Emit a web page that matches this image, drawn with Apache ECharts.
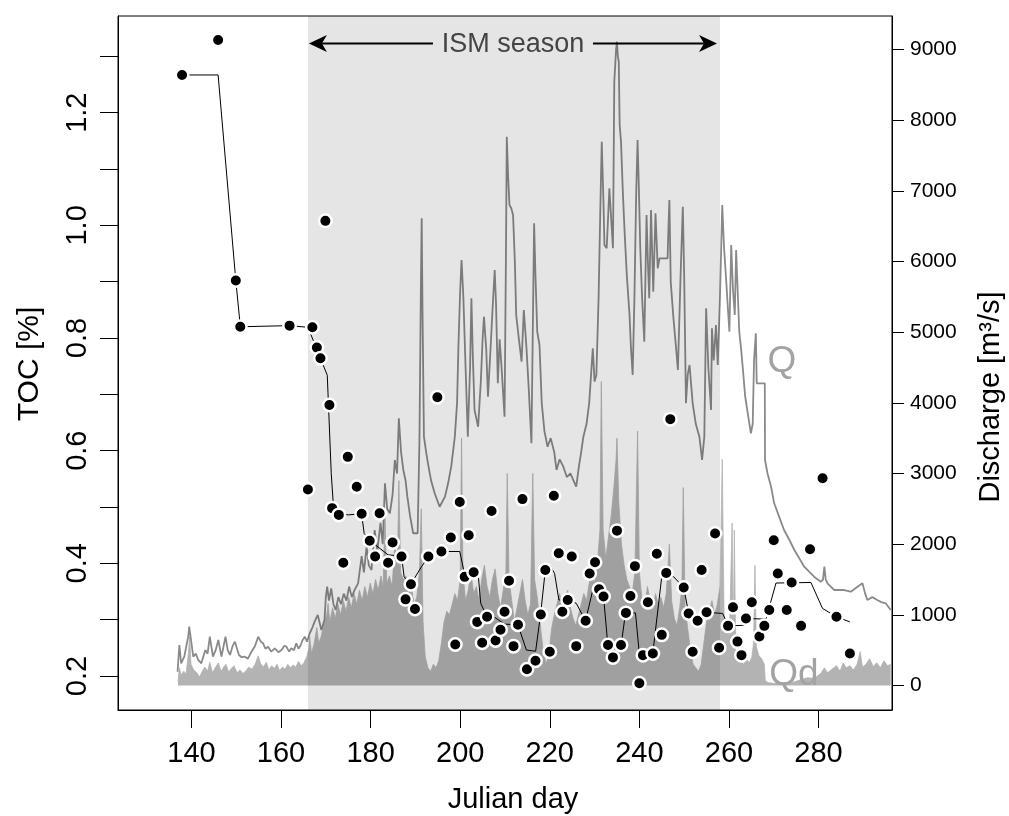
<!DOCTYPE html>
<html><head><meta charset="utf-8">
<script src="https://cdn.jsdelivr.net/npm/echarts@6/dist/echarts.min.js"></script>
<style>html,body{margin:0;padding:0;background:#fff;}#c{width:1009px;height:816px;}</style>
</head><body><div id="c"></div>
<script>
// ---- axis ticks ----
const xTicks = [140,160,180,200,220,240,260,280];
const tocTicks = [0.2,0.3,0.4,0.5,0.6,0.7,0.8,0.9,1.0,1.1,1.2,1.3];
const tocLabels = [0.2,0.4,0.6,0.8,1.0,1.2];
const qTicks = [0,1000,2000,3000,4000,5000,6000,7000,8000,9000];
const ismStart = 166, ismEnd = 258;

// ---- TOC samples ----
const tocDays = [137.9,145.95,149.9,150.9,161.9,166.0,167.0,168.0,168.8,169.9,170.8,171.4,172.9,173.9,174.9,176.9,178.0,179.8,181.0,182.0,183.9,184.9,186.9,187.8,189.0,189.9,192.9,194.9,195.8,197.9,198.9,199.9,201.0,201.9,203.0,203.8,204.9,206.0,207.0,207.9,209.0,209.9,210.9,211.9,212.9,213.9,214.9,216.8,218.0,219.0,220.0,220.9,222.0,222.8,224.0,224.9,225.9,228.0,228.9,230.1,231.0,232.0,233.0,234.1,235.0,235.9,237.0,238.0,239.0,240.0,240.8,241.9,243.0,243.9,245.0,246.0,246.9,249.9,251.0,251.9,253.0,253.9,255.0,256.9,257.8,259.8,260.9,261.9,262.8,263.8,265.1,266.8,267.9,269.0,270.0,270.9,272.9,274.0,276.1,278.1,280.9,284.0,287.0];
const tocValues = [1.267,1.329,0.902,0.820,0.822,0.531,0.819,0.783,0.764,1.008,0.681,0.498,0.486,0.401,0.589,0.536,0.488,0.440,0.412,0.489,0.401,0.437,0.412,0.336,0.363,0.319,0.412,0.695,0.421,0.446,0.256,0.509,0.376,0.450,0.384,0.296,0.259,0.305,0.493,0.263,0.282,0.314,0.369,0.253,0.291,0.514,0.212,0.227,0.309,0.388,0.243,0.520,0.418,0.314,0.335,0.412,0.253,0.298,0.382,0.402,0.354,0.341,0.255,0.233,0.458,0.255,0.312,0.342,0.395,0.187,0.237,0.331,0.240,0.417,0.273,0.383,0.656,0.357,0.311,0.243,0.298,0.388,0.313,0.453,0.250,0.289,0.322,0.261,0.237,0.302,0.331,0.270,0.289,0.317,0.441,0.382,0.317,0.366,0.289,0.425,0.551,0.305,0.240];

// ---- TOC running line ----
const medDays = [137.93,145.95,149.90,150.92,161.93,166.01,170.32,171.21,171.65,172.92,175.00,177.98,178.56,180.21,183.91,186.90,187.48,188.97,191.36,192.92,195.82,199.90,200.86,203.02,203.98,204.58,205.98,207.70,209.93,212.89,214.77,216.84,217.95,219.00,219.96,221.07,222.03,224.04,225.91,227.98,229.61,230.73,232.00,232.96,235.94,236.90,239.13,240.02,242.99,244.99,245.97,247.67,249.90,251.01,253.02,255.02,258.59,259.86,263.43,263.81,268.27,270.50,278.30,280.88,284.00,286.99];
const medValues = [1.267,1.267,0.902,0.820,0.822,0.819,0.734,0.559,0.507,0.488,0.486,0.488,0.453,0.438,0.415,0.413,0.376,0.363,0.394,0.412,0.421,0.421,0.385,0.384,0.383,0.329,0.305,0.304,0.292,0.291,0.246,0.244,0.310,0.388,0.397,0.382,0.335,0.335,0.329,0.298,0.353,0.359,0.341,0.255,0.255,0.312,0.312,0.237,0.240,0.376,0.383,0.376,0.357,0.311,0.308,0.313,0.311,0.289,0.290,0.302,0.301,0.365,0.366,0.320,0.305,0.296];

// ---- Discharge Q ----
const qDays = [136.9,137.3,137.7,138.4,139.3,139.5,139.8,140.4,141.0,141.5,142.2,143.1,143.6,144.1,144.8,145.4,146.0,146.7,147.6,148.1,148.6,149.2,149.7,150.6,151.2,151.9,152.6,153.4,154.2,154.9,155.5,156.0,156.5,157.1,157.8,158.6,159.4,160.1,160.7,161.2,161.8,162.3,162.9,163.4,163.9,164.4,164.8,165.3,165.8,166.4,167.0,167.5,168.2,169.0,169.7,170.0,170.3,170.7,171.2,171.7,172.2,172.8,173.4,174.0,174.6,175.2,175.8,176.4,177.2,178.0,178.5,179.1,179.6,180.2,180.9,181.5,182.2,182.7,183.2,183.7,184.3,184.9,185.4,185.9,186.3,186.8,187.3,187.8,188.2,188.8,189.5,190.5,190.9,191.2,191.4,191.6,191.9,192.4,192.8,193.5,194.3,195.0,195.4,196.0,196.6,197.3,198.0,198.8,199.3,199.6,200.0,200.3,200.7,201.2,201.7,202.2,202.5,202.8,203.2,204.0,204.6,205.0,205.3,205.8,206.2,206.8,207.2,207.7,208.0,208.4,208.8,209.2,209.9,210.2,210.4,210.7,211.0,211.4,211.8,212.2,212.5,213.1,213.7,214.2,214.8,215.3,215.9,216.2,216.5,216.8,217.2,217.7,218.2,218.8,219.5,220.2,221.0,221.5,222.2,223.0,223.8,224.6,225.3,225.9,226.5,227.0,227.5,228.2,228.8,229.6,230.0,230.4,230.9,231.3,231.6,232.0,232.2,232.7,233.0,233.3,233.6,234.1,234.4,234.8,235.0,235.2,235.4,235.6,235.9,236.3,236.7,237.2,237.8,238.1,238.5,238.9,239.3,239.6,239.9,240.2,240.6,241.1,241.6,241.9,242.2,242.6,243.1,243.6,244.1,244.5,246.3,246.5,246.7,247.0,247.6,248.2,248.6,249.2,249.7,250.0,250.4,250.8,251.2,251.9,252.6,253.4,254.0,254.5,254.9,255.4,256.0,256.2,256.6,257.1,257.5,258.0,258.5,258.9,259.4,259.8,260.1,260.5,260.9,261.3,261.6,262.0,262.3,262.7,263.1,263.6,264.2,264.9,265.3,265.6,266.0,266.2,268.0,268.05,268.6,269.4,270.1,271.2,272.3,273.5,274.6,275.7,276.8,277.9,279.0,280.5,281.0,281.3,281.6,282.0,283.5,285.7,287.2,288.7,289.8,290.4,290.9,292.0,293.1,294.0,295.0,296.1];
const qValues = [195,573,314,408,700,832,832,408,450,361,314,502,450,690,408,500,644,408,690,500,432,560,620,432,400,408,380,478,560,690,620,597,520,549,480,526,470,502,560,549,480,526,500,597,520,573,640,690,620,739,820,903,998,785,927,1250,1398,1200,1375,1150,1068,1250,1150,1300,1200,1400,1250,1350,1446,1830,1600,1964,1700,1634,2200,1900,2300,2000,2861,2500,2437,2700,3191,3000,3781,3300,3050,2900,2672,2400,2154,2154,3474,5500,6611,5200,3521,3300,3144,2900,2720,2600,2530,2600,2672,2861,3100,3521,4000,4800,5600,6021,5500,4500,3521,4500,5479,4700,3898,3662,4300,4900,5219,4771,4087,4800,5300,5880,5400,4276,4900,4535,3804,6000,7766,7200,6799,6753,6658,6000,5243,4900,4582,5314,4771,4200,3427,5000,6540,5800,5006,4818,4000,3600,3379,3500,3300,3050,3200,3100,2950,3000,2900,2813,3100,3300,3521,3700,4000,4771,4300,4394,5500,6800,7695,6800,6233,6187,6600,7036,7058,6187,8544,9000,9110,8900,8827,7931,7695,7000,6422,5800,5243,4800,4394,5500,7000,7719,7000,6187,5500,4865,6658,6000,5479,6729,5573,6682,5903,6045,6045,6500,6870,5714,5200,4771,4465,5800,6775,5800,3993,4400,4535,3993,3700,3521,3191,3521,5338,4500,3898,5054,4600,5101,4535,5500,6799,6200,5714,5300,5006,6233,5600,5243,6162,5500,5006,4771,4488,4100,3852,3569,3700,4600,4984,4276,4276,3191,3003,2813,2578,2389,2200,2059,1917,1800,1681,1610,1540,1469,1500,1681,1500,1446,1351,1351,1327,1398,1446,1300,1210,1250,1210,1180,1163,1068];

// ---- Discharge Qd ----
const qdDays = [137.0,137.3,137.7,138.3,138.8,139.3,139.6,139.9,140.5,141.2,141.8,142.4,143.0,143.6,144.1,144.7,145.3,146.0,146.6,147.2,147.7,148.3,148.9,149.5,150.2,150.8,151.5,152.2,152.8,153.5,154.2,154.9,155.5,156.1,156.7,157.3,157.9,158.5,159.1,159.7,160.3,160.9,161.5,162.1,162.7,163.3,163.9,164.5,165.1,165.7,166.2,166.4,166.8,167.4,168.0,168.4,169.0,169.6,170.2,170.5,170.9,171.5,172.1,172.7,173.3,173.9,174.5,175.1,175.7,176.3,176.9,177.5,178.1,178.7,179.3,179.9,180.5,181.1,181.7,182.3,182.8,183.2,183.6,184.2,184.8,185.4,186.0,186.3,186.7,187.3,187.9,188.5,189.1,189.7,190.3,190.9,191.3,191.7,192.2,192.8,193.4,194.0,194.6,195.2,195.8,196.4,197.0,197.6,198.2,198.8,199.4,200.0,200.3,200.6,201.2,201.8,202.4,203.0,203.6,204.2,204.8,205.4,206.0,206.6,207.2,207.8,208.4,209.0,209.6,210.2,210.5,210.9,211.5,212.1,212.7,213.3,213.9,214.5,215.1,215.7,216.2,216.6,217.2,217.8,218.5,219.2,219.8,220.4,221.0,221.6,222.2,222.8,223.4,224.0,224.6,225.2,225.8,226.4,227.0,227.6,228.2,228.8,229.4,230.0,230.6,231.2,231.5,231.9,232.5,233.1,233.7,234.3,234.8,235.0,235.4,236.0,236.6,237.2,237.8,238.4,239.0,239.6,240.0,240.6,241.2,241.8,242.4,243.0,243.6,244.2,244.8,245.4,246.0,246.7,247.2,247.8,248.4,249.0,249.5,249.8,250.2,250.8,251.4,252.0,252.6,253.2,253.8,254.4,255.0,255.6,256.2,256.8,257.4,258.0,258.5,258.9,259.5,260.1,260.7,261.0,261.2,261.5,262.1,262.7,263.3,263.9,264.5,265.1,265.5,265.8,266.1,266.7,267.3,267.9,268.1,268.8,270.0,271.5,273.0,274.5,276.0,277.5,279.0,280.5,281.3,282.0,283.0,284.0,284.8,285.5,286.2,287.0,287.8,288.6,289.3,289.8,290.6,291.4,292.2,293.0,293.8,294.6,295.4,296.1];
const qdValues = [60,250,150,200,160,450,690,300,220,180,120,200,260,200,330,180,250,320,200,260,300,190,240,280,180,220,170,210,260,230,300,420,300,260,330,220,280,240,300,210,260,230,300,250,290,260,340,280,320,400,520,690,450,600,820,600,700,900,1000,1160,900,1100,950,1150,1000,1200,1050,1250,1100,1300,1150,1350,1200,1400,1250,1450,1300,1500,1350,1550,1400,2400,1450,1550,1400,2000,1700,2900,1600,1500,1550,1300,1400,1150,1250,1600,2500,900,400,250,200,300,250,350,600,900,1050,1000,1150,1300,1200,1500,3500,1600,1200,1350,1600,1300,1400,1200,1500,1700,1400,1250,1500,1650,1300,1100,1350,1600,3000,1500,1200,900,1100,1300,1500,1200,1000,1150,3000,1500,1250,900,500,300,450,800,1000,1150,1300,1100,1250,1350,1100,950,850,1000,1150,1300,1200,1450,1600,1450,1700,2200,4300,2200,1800,2100,2400,2800,3200,3500,2600,2000,1700,1500,1400,1300,1600,3600,1600,1200,1100,1400,1200,1050,1300,1150,1250,1100,1300,2000,1200,950,850,1100,1400,2800,1100,800,500,300,250,200,300,600,900,1050,1200,1000,1150,1400,3200,1000,800,700,2300,600,2200,500,400,350,300,380,320,400,600,1700,550,420,380,300,70,40,30,40,35,50,80,110,100,170,250,180,230,280,200,320,250,280,220,300,480,260,300,380,270,320,250,350,280,300];

const zip = (a, b) => a.map((v, i) => [v, b[i]]);
const FONT = "'Liberation Sans', Arial, Helvetica, sans-serif";

const chart = echarts.init(document.getElementById('c'), null, {renderer: 'canvas'});
chart.setOption({
  animation: false,
  backgroundColor: '#ffffff',
  textStyle: {fontFamily: FONT},
  grid: {left: 118, right: 117, top: 16, bottom: 106, show: true, borderColor: '#000', borderWidth: 1, backgroundColor: 'transparent'},
  xAxis: {
    type: 'value', min: 123.6, max: 296.4,
    axisLine: {show: true, onZero: false, lineStyle: {color: '#000', width: 1}},
    axisTick: {show: true, length: 18, customValues: xTicks, lineStyle: {color: '#000'}},
    axisLabel: {customValues: xTicks, fontSize: 29, color: '#000', margin: 29, fontFamily: FONT},
    splitLine: {show: false}
  },
  yAxis: [{
    type: 'value', min: 0.1396, max: 1.3717, position: 'left',
    axisLine: {show: true, onZero: false, lineStyle: {color: '#000', width: 1}},
    axisTick: {show: true, length: 18, customValues: tocTicks, lineStyle: {color: '#000'}},
    axisLabel: {customValues: tocLabels, rotate: 90, fontSize: 29, color: '#000', margin: 26, fontFamily: FONT,
      formatter: v => Number(v).toFixed(1)},
    splitLine: {show: false}
  }, {
    type: 'value', min: -347, max: 9474, position: 'right',
    axisLine: {show: true, onZero: false, lineStyle: {color: '#000', width: 1}},
    axisTick: {show: true, length: 12, customValues: qTicks, lineStyle: {color: '#000'}},
    axisLabel: {customValues: qTicks, fontSize: 21, color: '#000', margin: 18, fontFamily: FONT,
      formatter: v => String(Math.round(v))},
    splitLine: {show: false}
  }],
  series: [
    {name: 'Qd', type: 'line', yAxisIndex: 1, data: zip(qdDays, qdValues), symbol: 'none', z: 1,
      lineStyle: {width: 0.8, color: '#b3b3b3'}, itemStyle: {color: '#b3b3b3'},
      areaStyle: {color: '#b3b3b3', opacity: 1}},
    {name: 'Q', type: 'line', yAxisIndex: 1, data: zip(qDays, qValues), symbol: 'none', z: 2,
      lineStyle: {width: 1.8, color: '#8a8a8a'}, itemStyle: {color: '#8a8a8a'}},
    {name: 'TOC median', type: 'line', yAxisIndex: 0, data: zip(medDays, medValues), symbol: 'none', z: 4,
      lineStyle: {width: 1, color: '#000'}},
    {name: 'TOC', type: 'scatter', yAxisIndex: 0, data: zip(tocDays, tocValues), z: 5,
      symbol: 'circle', symbolSize: 12.5,
      itemStyle: {color: '#000', borderColor: '#fff', borderWidth: 2.5, opacity: 1}},
    {name: 'ISM season', type: 'custom', yAxisIndex: 0, z: 3, silent: true,
      data: [[ismStart, ismEnd, 0.5]], encode: {x: [0, 1], y: 2},
      renderItem: (params, api) => {
        const a = api.coord([api.value(0), 0.5]);
        const b = api.coord([api.value(1), 0.5]);
        const cs = params.coordSys;
        return {type: 'rect', shape: {x: a[0], y: cs.y, width: b[0] - a[0], height: cs.height},
          style: {fill: 'rgba(0,0,0,0.1)'}};
      }}
  ]
});

// annotations positioned from axis coordinates
const px = (d, v, s) => chart.convertToPixel({seriesIndex: s}, [d, v]);
const xl = px(ismStart, 1, 3)[0] + 1;
const xr = px(ismEnd, 1, 3)[0] - 3;
const ay = 43.5;
const mid = (xl + xr) / 2;
const qLab = px(268.6, 4578, 1);
const qdLab = px(269.0, 149, 1);
chart.setOption({
  graphic: [
    {type: 'line', shape: {x1: xl + 10, y1: ay, x2: mid - 80, y2: ay}, style: {stroke: '#000', lineWidth: 2}, z: 100},
    {type: 'line', shape: {x1: mid + 80, y1: ay, x2: xr - 10, y2: ay}, style: {stroke: '#000', lineWidth: 2}, z: 100},
    {type: 'polygon', shape: {points: [[xl, ay], [xl + 18, ay - 8.5], [xl + 13, ay], [xl + 18, ay + 8.5]]}, style: {fill: '#000'}, z: 100},
    {type: 'polygon', shape: {points: [[xr, ay], [xr - 18, ay - 8.5], [xr - 13, ay], [xr - 18, ay + 8.5]]}, style: {fill: '#000'}, z: 100},
    {type: 'text', x: mid, y: ay + 1, z: 100, style: {text: 'ISM season', fontSize: 27, fontFamily: FONT, fill: '#444',
      textAlign: 'center', textVerticalAlign: 'middle', align: 'center', verticalAlign: 'middle'}},
    {type: 'text', x: qLab[0], y: qLab[1], z: 100, style: {text: 'Q', fontSize: 37, fontFamily: FONT, fill: '#a3a3a3',
      textAlign: 'left', textVerticalAlign: 'middle', align: 'left', verticalAlign: 'middle'}},
    {type: 'text', x: qdLab[0], y: qdLab[1], z: 100, style: {text: 'Qd', fontSize: 37, fontFamily: FONT, fill: '#a3a3a3',
      textAlign: 'left', textVerticalAlign: 'middle', align: 'left', verticalAlign: 'middle'}},
    {type: 'text', x: 513, y: 800, z: 100, style: {text: 'Julian day', fontSize: 29, fontFamily: FONT, fill: '#000',
      textAlign: 'center', textVerticalAlign: 'middle', align: 'center', verticalAlign: 'middle'}},
    {type: 'text', x: 30, y: 364, rotation: Math.PI / 2, z: 100, style: {text: 'TOC [%]', fontSize: 30, fontFamily: FONT, fill: '#000',
      textAlign: 'center', textVerticalAlign: 'middle', align: 'center', verticalAlign: 'middle'}},
    {type: 'text', x: 991, y: 397, rotation: Math.PI / 2, z: 100, style: {text: 'Discharge [m³/s]', fontSize: 29, fontFamily: FONT, fill: '#000',
      textAlign: 'center', textVerticalAlign: 'middle', align: 'center', verticalAlign: 'middle'}}
  ]
});
</script>
</body></html>
